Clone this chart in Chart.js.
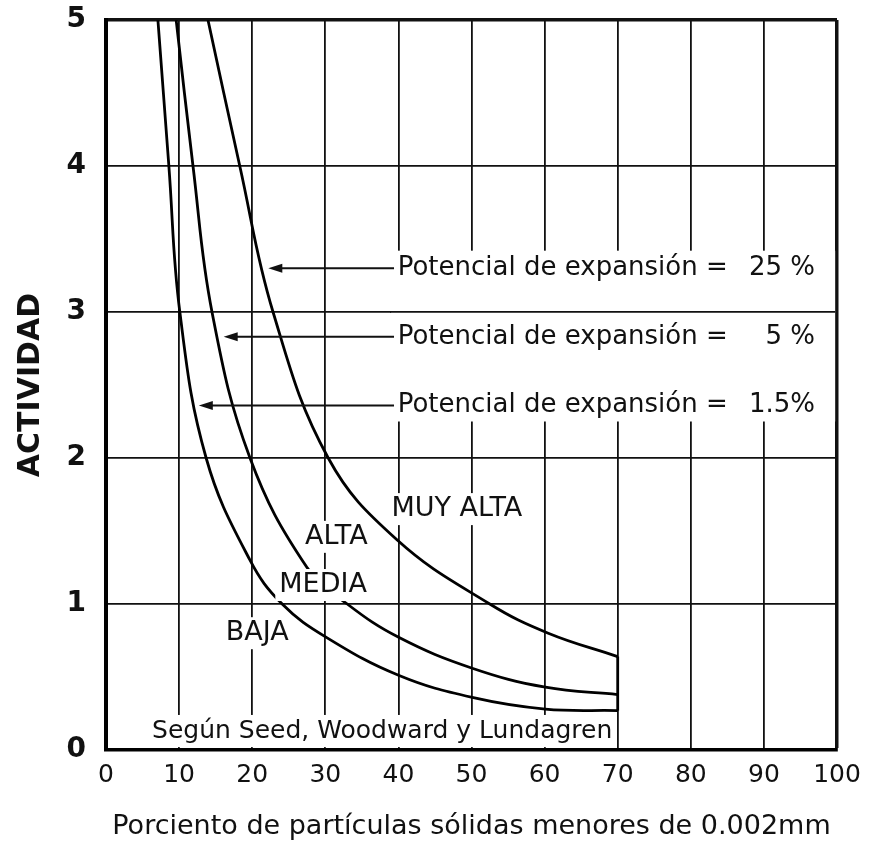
<!DOCTYPE html>
<html>
<head>
<meta charset="utf-8">
<script src="https://cdn.jsdelivr.net/npm/chart.js@4.4.1/dist/chart.umd.min.js"></script>
<style>
html,body{margin:0;padding:0;background:#fff;}
canvas{display:block;}
</style>
</head>
<body>
<canvas id="c" width="874" height="857"></canvas>
<script>
// ---------- data ----------
const xTickValues = [0,10,20,30,40,50,60,70,80,90,100];
const yTickValues = [0,1,2,3,4,5];

const xTitle = 'Porciento de partículas sólidas menores de 0.002mm';
const yTitle = 'ACTIVIDAD';

// Potencial de expansión = 1.5 %  (BAJA / MEDIA boundary)
const lowX = [7.1, 8.6, 10.1, 13.7, 19.7, 24.1, 30.2, 40.1, 50.1, 60.1, 70.0];
const lowY = [5.0, 4.0, 3.0, 2.0, 1.30, 1.00, 0.77, 0.51, 0.36, 0.28, 0.27];

// Potencial de expansión = 5 %  (MEDIA / ALTA boundary)
const midX = [9.6, 11.9, 14.5, 19.7, 27.5, 33.0, 40.1, 50.1, 60.1, 70.0];
const midY = [5.0, 4.0, 3.0, 2.00, 1.25, 1.00, 0.77, 0.56, 0.43, 0.38];

// Potencial de expansión = 25 %  (ALTA / MUY ALTA boundary)
const highX = [13.95, 18.3, 22.85, 30.4, 39.8, 52.5, 60.5, 70.0];
const highY = [5.0, 4.0, 3.0, 2.00, 1.44, 1.00, 0.80, 0.64];

const rowTexts = ['Potencial de expansión =', 'Potencial de expansión =', 'Potencial de expansión ='];
const rowValues = ['25 %', '5 %', '1.5%'];
const zoneTexts = ['MUY ALTA', 'ALTA', 'MEDIA', 'BAJA'];
const sourceText = 'Según Seed, Woodward y Lundagren';

// ---------- helpers ----------
const toPts = (xs, ys) => xs.map((x, i) => ({x: x, y: ys[i]}));
const closureX = [lowX[lowX.length-1], highX[highX.length-1]];
const closureY = [lowY[lowY.length-1], highY[highY.length-1]];

const FONT = '"DejaVu Sans", "Liberation Sans", sans-serif';
const INK = '#111';
const GRID_W = 1.8;

// annotation placement (data units)
const rowLayout = [
  {y: 3.30, tipX: 22.2},
  {y: 2.83, tipX: 16.1},
  {y: 2.36, tipX: 12.7}
];
const rowStartX = 39.4, rowTextX = 39.9, rowValueRightX = 97.0;
const zoneLayout = [
  {x: 48.0, y: 1.65},
  {x: 31.5, y: 1.46},
  {x: 29.7, y: 1.13},
  {x: 20.7, y: 0.80}
];
const sourceLayout = {x: 6.3, y: 0.125};
const blankBoxes = [
  {x0: 39.0, x1: 99.75, yTop: 3.42, yBot: 2.25},
  {x0: 5.8, x1: 69.8, yTop: 0.24, yBot: 0.02}
];

function alignPx(p, w) {
  const h = w / 2;
  return Math.round(p - h) + h;
}

const annot = {
  id: 'annot',
  beforeDatasetsDraw(chart) {
    const c = chart.ctx, xs = chart.scales.x, ys = chart.scales.y;
    c.save();
    blankBoxes.forEach(b => {
      const x0 = xs.getPixelForValue(b.x0), x1 = xs.getPixelForValue(b.x1);
      const y0 = ys.getPixelForValue(b.yTop), y1 = ys.getPixelForValue(b.yBot);
      c.fillStyle = '#fff';
      c.fillRect(x0, y0, x1 - x0, y1 - y0);
      c.strokeStyle = INK; c.lineWidth = GRID_W;
      yTickValues.forEach(v => {
        if (v < b.yTop && v > b.yBot) {
          const py = alignPx(ys.getPixelForValue(v), GRID_W);
          c.beginPath(); c.moveTo(x0 - 1, py); c.lineTo(x1, py); c.stroke();
        }
      });
    });
    c.restore();
  },
  afterDatasetsDraw(chart) {
    const c = chart.ctx, xs = chart.scales.x, ys = chart.scales.y;
    c.save();
    c.font = '27px ' + FONT;
    c.textBaseline = 'middle';
    c.textAlign = 'center';
    zoneTexts.forEach((t, i) => {
      const p = zoneLayout[i];
      const px = xs.getPixelForValue(p.x), py = ys.getPixelForValue(p.y);
      const w = c.measureText(t).width;
      c.fillStyle = '#fff';
      c.fillRect(px - w/2 - 4, py - 16, w + 8, 32);
      c.fillStyle = INK;
      c.fillText(t, px, py);
    });
    c.font = '25px ' + FONT;
    c.textAlign = 'left';
    c.fillStyle = INK;
    c.fillText(sourceText, xs.getPixelForValue(sourceLayout.x), ys.getPixelForValue(sourceLayout.y));
    c.font = '26px ' + FONT;
    rowTexts.forEach((t, i) => {
      const r = rowLayout[i];
      const py = ys.getPixelForValue(r.y);
      const tip = xs.getPixelForValue(r.tipX);
      const start = xs.getPixelForValue(rowStartX);
      c.strokeStyle = INK; c.lineWidth = 2;
      c.beginPath(); c.moveTo(start, py); c.lineTo(tip + 10, py); c.stroke();
      c.fillStyle = INK;
      c.beginPath(); c.moveTo(tip, py); c.lineTo(tip + 14, py - 4.5); c.lineTo(tip + 14, py + 4.5); c.closePath(); c.fill();
      c.textAlign = 'left';
      c.fillText(t, xs.getPixelForValue(rowTextX), py);
      c.textAlign = 'right';
      c.fillText(rowValues[i], xs.getPixelForValue(rowValueRightX), py);
    });
    c.restore();
  }
};

const lineStyle = {
  borderColor: '#000', borderWidth: 2.8, pointRadius: 0, fill: false,
  cubicInterpolationMode: 'default', tension: 0.4
};

new Chart(document.getElementById('c'), {
  type: 'line',
  data: {
    datasets: [
      Object.assign({label: 'Potencial de expansión = 1.5 %', data: toPts(lowX, lowY)}, lineStyle),
      Object.assign({label: 'Potencial de expansión = 5 %', data: toPts(midX, midY)}, lineStyle),
      Object.assign({label: 'Potencial de expansión = 25 %', data: toPts(highX, highY)}, lineStyle),
      Object.assign({label: 'cierre', data: toPts(closureX, closureY)}, lineStyle, {tension: 0})
    ]
  },
  options: {
    responsive: false,
    animation: false,
    devicePixelRatio: 1,
    layout: {padding: {top: 20, right: 37, left: 0, bottom: 0}},
    plugins: {legend: {display: false}, tooltip: {enabled: false}},
    scales: {
      x: {
        type: 'linear', min: 0, max: 100,
        afterBuildTicks: s => { s.ticks = xTickValues.map(v => ({value: v})); },
        afterFit: s => { s.height = 107; },
        grid: {
          color: INK, drawTicks: false,
          lineWidth: ctx => (ctx.tick && ctx.tick.value === 100) ? 3.5 : GRID_W
        },
        border: {display: true, color: '#000', width: 3.5},
        ticks: {
          color: INK, padding: 10, autoSkip: false, maxRotation: 0,
          font: {family: FONT, size: 25},
          callback: v => String(v)
        },
        title: {
          display: true, text: xTitle, color: INK,
          font: {family: FONT, size: 27},
          padding: {top: 0, bottom: 14}
        }
      },
      y: {
        type: 'linear', min: 0, max: 5,
        afterBuildTicks: s => { s.ticks = yTickValues.map(v => ({value: v})); },
        afterFit: s => { s.width = 106; s.paddingTop = 0; s.paddingBottom = 0; },
        grid: {
          color: INK, drawTicks: false,
          lineWidth: ctx => (ctx.tick && ctx.tick.value === 5) ? 3.5 : GRID_W
        },
        border: {display: true, color: '#000', width: 4},
        ticks: {
          color: INK, padding: 20,
          font: {family: FONT, size: 28, weight: 'bold'},
          callback: v => String(v)
        },
        title: {
          display: true, text: yTitle, color: INK,
          font: {family: FONT, size: 30, weight: 'bold'},
          padding: {top: 13, bottom: 0}
        }
      }
    }
  },
  plugins: [annot]
});
</script>
</body>
</html>
